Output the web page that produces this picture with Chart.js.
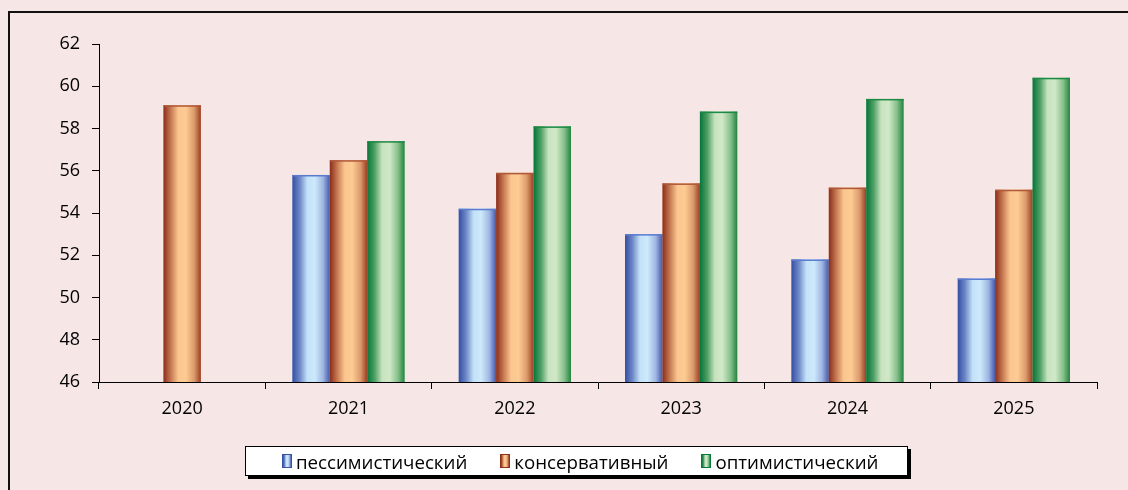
<!DOCTYPE html>
<html lang="ru">
<head>
    <meta charset="UTF-8">
    <title>Сценарии прогноза</title>
    <script src="https://cdn.jsdelivr.net/npm/chart.js"></script>
    <style>
        html, body { margin: 0; padding: 0; }
        body {
            width: 1128px;
            height: 490px;
            overflow: hidden;
            background: #f6e6e6;
            position: relative;
            font-family: 'Open Sans', sans-serif;
        }
        #frame {
            position: absolute;
            left: 8px;
            top: 11px;
            width: 1300px;
            height: 700px;
            border: 2px solid #111;
            box-sizing: border-box;
        }
        #chartBox { position: absolute; left: 0; top: 0; }
        #legend {
            position: absolute;
            left: 245px;
            top: 446px;
            width: 663px;
            height: 30px;
            box-sizing: border-box;
            border: 1px solid #000;
            background: #fff;
            box-shadow: 3px 3px 0 #000;
            display: flex;
            align-items: center;
            padding-left: 36px;
            font-size: 18.7px;
            color: #000;
        }
        .item { display: flex; align-items: center; margin-right: 33px; }
        .swatch {
            width: 8px;
            height: 12px;
            margin-right: 4px;
            border: 1px solid;
        }
    </style>
</head>
<body>
    <div id="frame"></div>
    <canvas id="chartBox" width="1128" height="490"></canvas>
    <div id="legend"></div>

    <script>
        // data
        const years = ["2020", "2021", "2022", "2023", "2024", "2025"];
        const pessimistic = [null, 55.8, 54.2, 53.0, 51.8, 50.9];
        const conservative = [59.1, 56.5, 55.9, 55.4, 55.2, 55.1];
        const optimistic = [null, 57.4, 58.1, 58.8, 59.4, 60.4];
        const seriesNames = ["пессимистический", "консервативный", "оптимистический"];
        const yMin = 46, yMax = 62, yStep = 2;

        // cylinder-like shading: left edge, light middle, right edge
        const shades = [
            { edge: "#3a52a3", stops: ["#344ea2", "#6f88c8", "#c3e2f8", "#cde9fb", "#9fb6e2", "#4558aa"], top: "#5b7bcf" },
            { edge: "#8f2e1b", stops: ["#8a2c1a", "#c67a52", "#fbc68f", "#fdcb93", "#dc9a6c", "#983f23"], top: "#b0583a" },
            { edge: "#07773a", stops: ["#05743a", "#4fa064", "#c8e3c0", "#d0e8c7", "#86c08b", "#23843f"], top: "#1c8a45" }
        ];
        const stopPos = [0, 0.2, 0.4, 0.6, 0.82, 1];

        const shadeBars = {
            id: "shadeBars",
            afterDatasetsDraw(chart) {
                const ctx = chart.ctx;
                const bottom = chart.chartArea.bottom;
                chart.data.datasets.forEach((ds, i) => {
                    const meta = chart.getDatasetMeta(i);
                    const sh = shades[i];
                    meta.data.forEach((el, j) => {
                        if (ds.data[j] === null) return;
                        const p = el.getProps(["x", "y", "base", "width"], true);
                        const base = Math.min(p.base, bottom);
                        const left = p.x - p.width / 2;
                        const g = ctx.createLinearGradient(left, 0, left + p.width, 0);
                        sh.stops.forEach((c, k) => g.addColorStop(stopPos[k], c));
                        ctx.save();
                        ctx.fillStyle = g;
                        ctx.fillRect(left, p.y, p.width, base - p.y);
                        ctx.fillStyle = sh.top;
                        ctx.fillRect(left, p.y, p.width, 1.5);
                        ctx.restore();
                    });
                });
            }
        };

        Chart.defaults.font.family = "'Open Sans', sans-serif";
        Chart.defaults.font.size = 18;
        Chart.defaults.color = "#000";

        const ctx = document.getElementById("chartBox").getContext("2d");
        const chart = new Chart(ctx, {
            type: "bar",
            data: {
                labels: years,
                datasets: [
                    { label: seriesNames[0], data: pessimistic, backgroundColor: "#c8e6f9" },
                    { label: seriesNames[1], data: conservative, backgroundColor: "#fcc891" },
                    { label: seriesNames[2], data: optimistic, backgroundColor: "#cde6c4" }
                ]
            },
            options: {
                responsive: false,
                animation: false,
                devicePixelRatio: 1,
                categoryPercentage: 0.675,
                barPercentage: 1,
                layout: { padding: { left: 0, right: 31, top: 44, bottom: 0 } },
                plugins: {
                    legend: { display: false },
                    tooltip: { enabled: false }
                },
                scales: {
                    x: {
                        grid: { drawOnChartArea: false, drawTicks: true, tickLength: 7, color: "#000", offset: true },
                        border: { color: "#000", width: 1 },
                        ticks: { padding: 9, color: "#000" },
                        afterFit: (s) => { s.height = 108; }
                    },
                    y: {
                        min: yMin,
                        max: yMax,
                        grid: { drawOnChartArea: false, drawTicks: true, tickLength: 7, color: "#000" },
                        border: { color: "#000", width: 1 },
                        ticks: { stepSize: yStep, padding: 12, color: "#000" },
                        afterFit: (s) => { s.width = 99; }
                    }
                }
            },
            plugins: [shadeBars]
        });

        // legend as html
        const legend = document.getElementById("legend");
        seriesNames.forEach((name, i) => {
            const sh = shades[i];
            const item = document.createElement("div");
            item.className = "item";
            const sw = document.createElement("span");
            sw.className = "swatch";
            sw.style.borderColor = sh.edge;
            sw.style.background = "linear-gradient(to right, " + sh.stops.join(", ") + ")";
            const txt = document.createElement("span");
            txt.textContent = name;
            item.appendChild(sw);
            item.appendChild(txt);
            legend.appendChild(item);
        });
    </script>
</body>
</html>
